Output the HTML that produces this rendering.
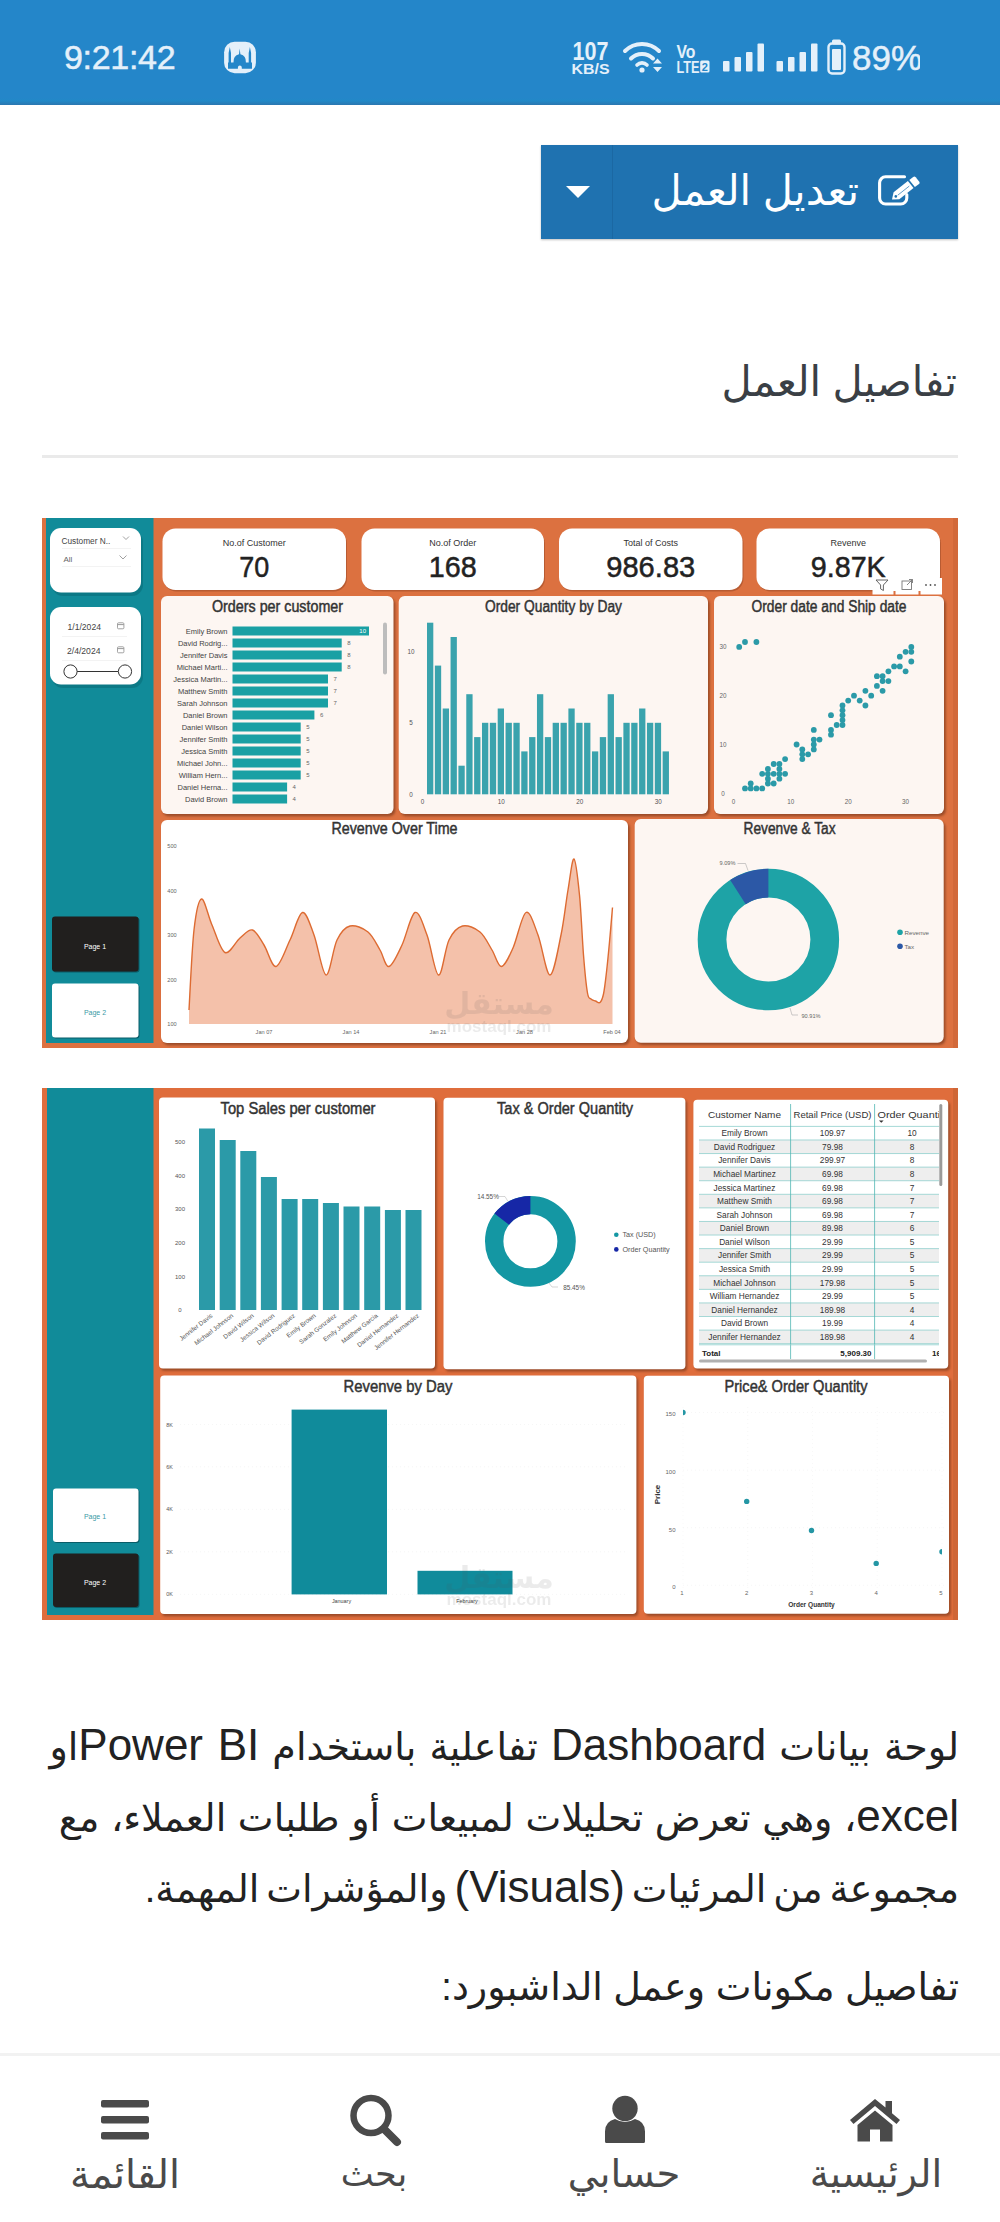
<!DOCTYPE html>
<html lang="ar">
<head>
<meta charset="utf-8">
<title>تفاصيل العمل</title>
<style>
html,body{margin:0;padding:0;overflow:hidden}
.rtl{direction:rtl;unicode-bidi:embed}
body{width:1000px;height:2222px;position:relative;background:#fff;overflow:hidden;color:#222;font-family:"Liberation Sans","DejaVu Sans",sans-serif}
.abs{position:absolute}
.status{left:0;top:0;width:1000px;height:104.5px;background:linear-gradient(to bottom,#2486c9 0,#2486c9 93.5%,#2189c7 96%,#2b76b0 100%)}
.time{left:64px;top:37px;font-size:34px;line-height:40px;color:#e4f0fa;direction:ltr;-webkit-text-stroke:.5px #e4f0fa;letter-spacing:-.3px}
.mosq{position:absolute;left:222px;top:40px}
.sicons{position:absolute;left:560px;top:25px}
.btn{left:541px;top:145px;width:417px;height:94px;background:#1f72b0;box-shadow:0 1px 2px rgba(0,0,0,.25)}
.btn .sep{position:absolute;left:71px;top:0;width:1px;height:94px;background:#1b68a3}
.btn .caret{position:absolute;left:25px;top:41px;width:0;height:0;border-left:12px solid transparent;border-right:12px solid transparent;border-top:12px solid #fff}
.btn .lbl{position:absolute;right:99px;top:16px;font-size:41.5px;line-height:60px;color:#fff;white-space:nowrap}
.editicon{position:absolute;left:335px;top:26px}
h2{margin:0;font-weight:normal;right:43px;top:352px;font-size:41.5px;line-height:60px;color:#3a3f45;white-space:nowrap}
.hr{left:42px;top:455.3px;width:916px;height:2.5px;background:#eaeaea}
.dash{position:absolute;display:block}
.en{font-size:44px}
.p{right:41px;font-size:38px;line-height:71px;height:71px;white-space:nowrap;color:#222}
.nav{left:0;top:2052.5px;width:1000px;height:170px;background:#fff;border-top:3px solid #f2f2f2;box-sizing:border-box}
.navsvg{position:absolute;left:0;top:2090px}
.nl{width:250px;text-align:center;top:2147px;font-size:37.5px;line-height:54px;color:#4a4a4a;white-space:nowrap}
</style>
</head>
<body>
<div class="abs status"></div>
<div class="abs time">9:21:42</div>
<svg class="mosq" width="36" height="36" viewBox="0 0 36 36">
<rect x="2.100" y="1.700" width="31.800" height="31.500" rx="10.500" fill="#e4f0fa"/>
<path fill="#2486c9" d="M6 28.700 V22.400 H6.600 V13 L7.800 7.100 L9 13 V22.400 H11.500 Q11.200 15.500 17 14.200 L17.700 8.600 L18.400 14.200 Q24.200 15.500 23.900 22.400 H26.700 V13 L27.900 7.100 L29.100 13 V22.400 H30 V28.700 H19.800 V27.400 a1.950 1.950 0 0 0 -3.900 0 V28.700 Z"/>
</svg>
<svg class="sicons" width="360" height="60" viewBox="560 25 360 60" direction="ltr" font-family="Liberation Sans, sans-serif" fill="#e4f0fa">
<text x="590.5" y="60" font-size="25.5" font-weight="bold" text-anchor="middle" textLength="36" lengthAdjust="spacingAndGlyphs">107</text>
<text x="590.5" y="74" font-size="15.5" font-weight="bold" text-anchor="middle" textLength="38" lengthAdjust="spacingAndGlyphs">KB/S</text>
<g fill="none" stroke="#e4f0fa" stroke-width="4" stroke-linecap="round">
<path d="M625 51 A24 24 0 0 1 659 51"/><path d="M631 58.5 A15.5 15.5 0 0 1 653 58.5"/><path d="M637 65 A7 7 0 0 1 647 65" stroke-width="3.6"/></g>
<circle cx="642" cy="70" r="2.6"/>
<path d="M653 63.5 l4.5 -5 l4.5 5z M653 67 l4.5 5 l4.5 -5z"/>
<text x="676.500" y="57.500" font-size="18" font-weight="bold" textLength="19" lengthAdjust="spacingAndGlyphs">Vo</text>
<text x="676.500" y="72.500" font-size="17" font-weight="bold" textLength="23" lengthAdjust="spacingAndGlyphs">LTE</text>
<rect x="700.200" y="60.500" width="9.300" height="12" rx="1.500"/>
<text x="704.800" y="70.700" font-size="11" font-weight="bold" text-anchor="middle" fill="#2486c9">2</text>
<rect x="723" y="61" width="6.5" height="10.500" rx="1"/><rect x="734.5" y="57" width="6.5" height="14.500" rx="1"/><rect x="746" y="52" width="6.5" height="19.500" rx="1"/><rect x="757.5" y="43.500" width="6.5" height="28" rx="1"/>
<rect x="776.500" y="61" width="6.5" height="10.500" rx="1"/><rect x="788" y="57" width="6.5" height="14.500" rx="1"/><rect x="799.500" y="52" width="6.5" height="19.500" rx="1"/><rect x="811" y="43.500" width="6.5" height="28" rx="1"/>
<rect x="832" y="39.500" width="9" height="5" rx="1.5"/>
<rect x="828.500" y="43.500" width="16" height="30" rx="3.5" fill="none" stroke="#e4f0fa" stroke-width="2.4"/>
<rect x="832" y="49" width="9" height="21" rx="1"/>
<text x="887" y="70" font-size="35" text-anchor="middle" textLength="70" lengthAdjust="spacingAndGlyphs" stroke="#e4f0fa" stroke-width=".5">89%</text>
</svg>
<div class="abs btn"><div class="sep"></div><div class="caret"></div><div class="lbl rtl">تعديل العمل</div><svg class="editicon" width="46" height="40" viewBox="0 0 46 40" fill="none" stroke="#fff" stroke-width="3.1" stroke-linecap="round" stroke-linejoin="round">
<path d="M28.5 5.800 H9.600 a6 6 0 0 0 -6 6 V27 a6 6 0 0 0 6 6 H24.800 a6 6 0 0 0 6 -6 V23.500"/>
<path d="M16 28.600 L17.600 21.200 L31.900 10.100 L37.500 17.100 L23.300 28.300 Z" fill="#fff" stroke="none"/>
<path d="M33.300 9 L37.200 5.900 Q38.600 4.900 39.700 6.200 L43.300 10.700 Q44.300 12 43 13.100 L38.900 16.100 Z" fill="#fff" stroke="none"/>
<path d="M22 24 L33 15.300" stroke="#1f72b0" stroke-width=".7"/>
<circle cx="19.800" cy="25.400" r="1.300" fill="#1f72b0" stroke="none"/>
</svg></div>
<h2 class="abs rtl">تفاصيل العمل</h2>
<div class="abs hr"></div>
<svg class="dash" style="left:42px;top:518px" width="916" height="530" viewBox="42 518 916 530" direction="ltr" font-family="Liberation Sans, sans-serif">
<defs><filter id="blur" x="-5%" y="-5%" width="110%" height="110%"><feGaussianBlur stdDeviation="1.1"/></filter></defs>
<rect x="42" y="518" width="916" height="530" fill="#dc7140"/>
<rect x="953" y="518" width="5" height="530" fill="#d2693a"/>
<rect x="46" y="518" width="107.5" height="525" fill="#118b99"/>
<rect x="52" y="531" width="91" height="65" rx="11" fill="#0a6b77" opacity=".55"/>
<rect x="50" y="528" width="91" height="64.5" rx="11" fill="#fff"/>
<text x="61.5" y="544" font-size="8.3" fill="#444" text-anchor="start" font-weight="normal" >Customer N..</text>
<path d="M123 536.5 l3 3 l3 -3 M119.5 555.5 l3.5 3.5 l3.5 -3.5" stroke="#888" stroke-width=".8" fill="none"/>
<text x="63.5" y="562.3" font-size="8" fill="#666" text-anchor="start" font-weight="normal" >All</text>
<path d="M62 548.5 H131 M62 566.5 H131" stroke="#eee" stroke-width=".7"/>
<rect x="52" y="610" width="91" height="78" rx="11" fill="#0a6b77" opacity=".55"/>
<rect x="50" y="607" width="91" height="77.5" rx="11" fill="#fff"/>
<text x="67.5" y="630" font-size="8.6" fill="#444" text-anchor="start" font-weight="normal" >1/1/2024</text>
<text x="67" y="654" font-size="8.6" fill="#444" text-anchor="start" font-weight="normal" >2/4/2024</text>
<rect x="117.5" y="622.8" width="6.4" height="6" rx="1" fill="none" stroke="#999" stroke-width=".9"/><path d="M117.5 624.6 h6.4" stroke="#999" stroke-width="1"/>
<rect x="117.5" y="646.8" width="6.4" height="6" rx="1" fill="none" stroke="#999" stroke-width=".9"/><path d="M117.5 648.6 h6.4" stroke="#999" stroke-width="1"/>
<path d="M62 636.5 H127 M62 660.5 H127" stroke="#eee" stroke-width=".7"/>
<path d="M77 671.5 H118" stroke="#333" stroke-width="1.1"/>
<circle cx="70.5" cy="671.5" r="6.6" fill="#fff" stroke="#333" stroke-width="1"/><circle cx="125" cy="671.5" r="6.6" fill="#fff" stroke="#333" stroke-width="1"/>
<rect x="53" y="917.5" width="86.5" height="55" rx="3" fill="#0a5d68"/>
<rect x="52" y="916.5" width="86.5" height="55" rx="3" fill="#211f1e"/>
<text x="95" y="948.5" font-size="7" fill="#fff" text-anchor="middle" font-weight="normal" >Page 1</text>
<rect x="53" y="984.5" width="86.5" height="54" rx="3" fill="#0a5d68"/>
<rect x="52" y="983.5" width="86.5" height="54" rx="3" fill="#fff"/>
<text x="95" y="1014.5" font-size="7" fill="#3a9aa6" text-anchor="middle" font-weight="normal" >Page 2</text>
<rect x="163.5" y="530.5" width="183.5" height="61" rx="13" fill="#a8522c" opacity=".7"/>
<rect x="162.5" y="528.5" width="183.5" height="61.5" rx="13" fill="#fff"/>
<text x="254.25" y="546.3" font-size="9" fill="#333" text-anchor="middle" font-weight="normal" >No.of Customer</text>
<text x="254.25" y="577" font-size="30" fill="#222" text-anchor="middle" font-weight="normal" stroke="#222" stroke-width=".5" textLength="30" lengthAdjust="spacingAndGlyphs">70</text>
<rect x="362.5" y="530.5" width="182.5" height="61" rx="13" fill="#a8522c" opacity=".7"/>
<rect x="361.5" y="528.5" width="182.5" height="61.5" rx="13" fill="#fff"/>
<text x="452.75" y="546.3" font-size="9" fill="#333" text-anchor="middle" font-weight="normal" >No.of Order</text>
<text x="452.75" y="577" font-size="30" fill="#222" text-anchor="middle" font-weight="normal" stroke="#222" stroke-width=".5" textLength="48" lengthAdjust="spacingAndGlyphs">168</text>
<rect x="560" y="530.5" width="183.5" height="61" rx="13" fill="#a8522c" opacity=".7"/>
<rect x="559" y="528.5" width="183.5" height="61.5" rx="13" fill="#fff"/>
<text x="650.75" y="546.3" font-size="9" fill="#333" text-anchor="middle" font-weight="normal" >Total of Costs</text>
<text x="650.75" y="577" font-size="30" fill="#222" text-anchor="middle" font-weight="normal" stroke="#222" stroke-width=".5" textLength="89" lengthAdjust="spacingAndGlyphs">986.83</text>
<rect x="757.5" y="530.5" width="183.5" height="61" rx="13" fill="#a8522c" opacity=".7"/>
<rect x="756.5" y="528.5" width="183.5" height="61.5" rx="13" fill="#fff"/>
<text x="848.25" y="546.3" font-size="9" fill="#333" text-anchor="middle" font-weight="normal" >Revenve</text>
<text x="848.25" y="577" font-size="30" fill="#222" text-anchor="middle" font-weight="normal" stroke="#222" stroke-width=".5" textLength="75" lengthAdjust="spacingAndGlyphs">9.87K</text>
<rect x="872.5" y="578" width="69.5" height="16.5" fill="#fff"/><path d="M894.5 591 v4 M919.5 591 v4" stroke="#dc7140" stroke-width="2"/>
<path d="M876 580 h12 l-4.6 5 v5.5 l-2.8 -1.6 v-3.9 z" fill="none" stroke="#555" stroke-width=".9"/>
<rect x="902" y="581" width="9.5" height="8.5" fill="none" stroke="#777" stroke-width=".9"/><path d="M907 585 l5.5 -5.5 m-3.5 0 h3.5 v3.5" stroke="#777" stroke-width=".9" fill="none"/>
<circle cx="926" cy="585" r=".9" fill="#555"/><circle cx="930.5" cy="585" r=".9" fill="#555"/><circle cx="935" cy="585" r=".9" fill="#555"/>
<rect x="162.8" y="598.2" width="232.5" height="218" rx="6" fill="#8a4222" opacity=".8" filter="url(#blur)"/><rect x="161" y="596" width="232.5" height="218" rx="6" fill="#fdf6f2"/>
<text x="277.5" y="611.5" font-size="15.6" fill="#333" text-anchor="middle" font-weight="normal" textLength="131" lengthAdjust="spacingAndGlyphs" stroke="#333" stroke-width=".45">Orders per customer</text>
<text x="227.5" y="633.7" font-size="7.5" fill="#444" text-anchor="end" font-weight="normal" >Emily Brown</text>
<rect x="232.5" y="626.5" width="136.5" height="9" fill="#1aa0a4"/>
<text x="366.0" y="633.4" font-size="6" fill="#fff" text-anchor="end" font-weight="normal" >10</text>
<text x="227.5" y="645.7" font-size="7.5" fill="#444" text-anchor="end" font-weight="normal" >David Rodrig...</text>
<rect x="232.5" y="638.5" width="109.2" height="9" fill="#1aa0a4"/>
<text x="347.2" y="645.4" font-size="6" fill="#666" text-anchor="start" font-weight="normal" >8</text>
<text x="227.5" y="657.7" font-size="7.5" fill="#444" text-anchor="end" font-weight="normal" >Jennifer Davis</text>
<rect x="232.5" y="650.5" width="109.2" height="9" fill="#1aa0a4"/>
<text x="347.2" y="657.4" font-size="6" fill="#666" text-anchor="start" font-weight="normal" >8</text>
<text x="227.5" y="669.7" font-size="7.5" fill="#444" text-anchor="end" font-weight="normal" >Michael Marti...</text>
<rect x="232.5" y="662.5" width="109.2" height="9" fill="#1aa0a4"/>
<text x="347.2" y="669.4" font-size="6" fill="#666" text-anchor="start" font-weight="normal" >8</text>
<text x="227.5" y="681.7" font-size="7.5" fill="#444" text-anchor="end" font-weight="normal" >Jessica Martin...</text>
<rect x="232.5" y="674.5" width="95.5" height="9" fill="#1aa0a4"/>
<text x="333.55" y="681.4" font-size="6" fill="#666" text-anchor="start" font-weight="normal" >7</text>
<text x="227.5" y="693.7" font-size="7.5" fill="#444" text-anchor="end" font-weight="normal" >Matthew Smith</text>
<rect x="232.5" y="686.5" width="95.5" height="9" fill="#1aa0a4"/>
<text x="333.55" y="693.4" font-size="6" fill="#666" text-anchor="start" font-weight="normal" >7</text>
<text x="227.5" y="705.7" font-size="7.5" fill="#444" text-anchor="end" font-weight="normal" >Sarah Johnson</text>
<rect x="232.5" y="698.5" width="95.5" height="9" fill="#1aa0a4"/>
<text x="333.55" y="705.4" font-size="6" fill="#666" text-anchor="start" font-weight="normal" >7</text>
<text x="227.5" y="717.7" font-size="7.5" fill="#444" text-anchor="end" font-weight="normal" >Daniel Brown</text>
<rect x="232.5" y="710.5" width="81.9" height="9" fill="#1aa0a4"/>
<text x="319.9" y="717.4" font-size="6" fill="#666" text-anchor="start" font-weight="normal" >6</text>
<text x="227.5" y="729.7" font-size="7.5" fill="#444" text-anchor="end" font-weight="normal" >Daniel Wilson</text>
<rect x="232.5" y="722.5" width="68.2" height="9" fill="#1aa0a4"/>
<text x="306.25" y="729.4" font-size="6" fill="#666" text-anchor="start" font-weight="normal" >5</text>
<text x="227.5" y="741.7" font-size="7.5" fill="#444" text-anchor="end" font-weight="normal" >Jennifer Smith</text>
<rect x="232.5" y="734.5" width="68.2" height="9" fill="#1aa0a4"/>
<text x="306.25" y="741.4" font-size="6" fill="#666" text-anchor="start" font-weight="normal" >5</text>
<text x="227.5" y="753.7" font-size="7.5" fill="#444" text-anchor="end" font-weight="normal" >Jessica Smith</text>
<rect x="232.5" y="746.5" width="68.2" height="9" fill="#1aa0a4"/>
<text x="306.25" y="753.4" font-size="6" fill="#666" text-anchor="start" font-weight="normal" >5</text>
<text x="227.5" y="765.7" font-size="7.5" fill="#444" text-anchor="end" font-weight="normal" >Michael John...</text>
<rect x="232.5" y="758.5" width="68.2" height="9" fill="#1aa0a4"/>
<text x="306.25" y="765.4" font-size="6" fill="#666" text-anchor="start" font-weight="normal" >5</text>
<text x="227.5" y="777.7" font-size="7.5" fill="#444" text-anchor="end" font-weight="normal" >William Hern...</text>
<rect x="232.5" y="770.5" width="68.2" height="9" fill="#1aa0a4"/>
<text x="306.25" y="777.4" font-size="6" fill="#666" text-anchor="start" font-weight="normal" >5</text>
<text x="227.5" y="789.7" font-size="7.5" fill="#444" text-anchor="end" font-weight="normal" >Daniel Herna...</text>
<rect x="232.5" y="782.5" width="54.6" height="9" fill="#1aa0a4"/>
<text x="292.6" y="789.4" font-size="6" fill="#666" text-anchor="start" font-weight="normal" >4</text>
<text x="227.5" y="801.7" font-size="7.5" fill="#444" text-anchor="end" font-weight="normal" >David Brown</text>
<rect x="232.5" y="794.5" width="54.6" height="9" fill="#1aa0a4"/>
<text x="292.6" y="801.4" font-size="6" fill="#666" text-anchor="start" font-weight="normal" >4</text>
<rect x="383" y="622.5" width="4" height="52" rx="2" fill="#bdbdbd"/>
<rect x="400.5" y="598.2" width="309.3" height="218" rx="6" fill="#8a4222" opacity=".8" filter="url(#blur)"/><rect x="398.7" y="596" width="309.3" height="218" rx="6" fill="#fdf6f2"/>
<text x="553.5" y="611.5" font-size="15.6" fill="#333" text-anchor="middle" font-weight="normal" textLength="137" lengthAdjust="spacingAndGlyphs" stroke="#333" stroke-width=".45">Order Quantity by Day</text>
<rect x="427.00" y="622.7" width="6.3" height="171.6" fill="#3aa3ad"/>
<rect x="434.86" y="665.6" width="6.3" height="128.7" fill="#3aa3ad"/>
<rect x="442.71" y="708.5" width="6.3" height="85.8" fill="#3aa3ad"/>
<rect x="450.56" y="637.0" width="6.3" height="157.3" fill="#3aa3ad"/>
<rect x="458.42" y="765.7" width="6.3" height="28.6" fill="#3aa3ad"/>
<rect x="466.27" y="694.2" width="6.3" height="100.1" fill="#3aa3ad"/>
<rect x="474.13" y="737.1" width="6.3" height="57.2" fill="#3aa3ad"/>
<rect x="481.99" y="722.8" width="6.3" height="71.5" fill="#3aa3ad"/>
<rect x="489.84" y="722.8" width="6.3" height="71.5" fill="#3aa3ad"/>
<rect x="497.69" y="708.5" width="6.3" height="85.8" fill="#3aa3ad"/>
<rect x="505.55" y="722.8" width="6.3" height="71.5" fill="#3aa3ad"/>
<rect x="513.40" y="722.8" width="6.3" height="71.5" fill="#3aa3ad"/>
<rect x="521.26" y="751.4" width="6.3" height="42.9" fill="#3aa3ad"/>
<rect x="529.12" y="737.1" width="6.3" height="57.2" fill="#3aa3ad"/>
<rect x="536.97" y="694.2" width="6.3" height="100.1" fill="#3aa3ad"/>
<rect x="544.83" y="737.1" width="6.3" height="57.2" fill="#3aa3ad"/>
<rect x="552.68" y="722.8" width="6.3" height="71.5" fill="#3aa3ad"/>
<rect x="560.53" y="722.8" width="6.3" height="71.5" fill="#3aa3ad"/>
<rect x="568.39" y="708.5" width="6.3" height="85.8" fill="#3aa3ad"/>
<rect x="576.25" y="722.8" width="6.3" height="71.5" fill="#3aa3ad"/>
<rect x="584.10" y="722.8" width="6.3" height="71.5" fill="#3aa3ad"/>
<rect x="591.96" y="751.4" width="6.3" height="42.9" fill="#3aa3ad"/>
<rect x="599.81" y="737.1" width="6.3" height="57.2" fill="#3aa3ad"/>
<rect x="607.66" y="694.2" width="6.3" height="100.1" fill="#3aa3ad"/>
<rect x="615.52" y="737.1" width="6.3" height="57.2" fill="#3aa3ad"/>
<rect x="623.38" y="722.8" width="6.3" height="71.5" fill="#3aa3ad"/>
<rect x="631.23" y="722.8" width="6.3" height="71.5" fill="#3aa3ad"/>
<rect x="639.09" y="708.5" width="6.3" height="85.8" fill="#3aa3ad"/>
<rect x="646.94" y="722.8" width="6.3" height="71.5" fill="#3aa3ad"/>
<rect x="654.80" y="722.8" width="6.3" height="71.5" fill="#3aa3ad"/>
<rect x="662.65" y="751.4" width="6.3" height="42.9" fill="#3aa3ad"/>
<text x="411" y="796.6999999999999" font-size="6.3" fill="#555" text-anchor="middle" font-weight="normal" >0</text>
<text x="411" y="725.1999999999999" font-size="6.3" fill="#555" text-anchor="middle" font-weight="normal" >5</text>
<text x="411" y="653.6999999999999" font-size="6.3" fill="#555" text-anchor="middle" font-weight="normal" >10</text>
<text x="422.6" y="803.8" font-size="6.3" fill="#555" text-anchor="middle" font-weight="normal" >0</text>
<text x="501.15000000000003" y="803.8" font-size="6.3" fill="#555" text-anchor="middle" font-weight="normal" >10</text>
<text x="579.7" y="803.8" font-size="6.3" fill="#555" text-anchor="middle" font-weight="normal" >20</text>
<text x="658.25" y="803.8" font-size="6.3" fill="#555" text-anchor="middle" font-weight="normal" >30</text>
<rect x="715.8" y="598.2" width="230" height="218" rx="6" fill="#8a4222" opacity=".8" filter="url(#blur)"/><rect x="714" y="596" width="230" height="218" rx="6" fill="#fdf6f2"/>
<text x="829" y="611.5" font-size="15.6" fill="#333" text-anchor="middle" font-weight="normal" textLength="155" lengthAdjust="spacingAndGlyphs" stroke="#333" stroke-width=".45">Order date and Ship date</text>
<circle cx="739.2" cy="646.9" r="2.9" fill="#2b9aa8"/>
<circle cx="745.0" cy="642.0" r="2.9" fill="#2b9aa8"/>
<circle cx="756.4" cy="642.0" r="2.9" fill="#2b9aa8"/>
<circle cx="745.0" cy="788.4" r="2.9" fill="#2b9aa8"/>
<circle cx="750.7" cy="783.5" r="2.9" fill="#2b9aa8"/>
<circle cx="750.7" cy="788.4" r="2.9" fill="#2b9aa8"/>
<circle cx="756.4" cy="788.4" r="2.9" fill="#2b9aa8"/>
<circle cx="762.2" cy="788.4" r="2.9" fill="#2b9aa8"/>
<circle cx="762.2" cy="773.8" r="2.9" fill="#2b9aa8"/>
<circle cx="767.9" cy="768.9" r="2.9" fill="#2b9aa8"/>
<circle cx="767.9" cy="773.8" r="2.9" fill="#2b9aa8"/>
<circle cx="767.9" cy="778.7" r="2.9" fill="#2b9aa8"/>
<circle cx="767.9" cy="783.5" r="2.9" fill="#2b9aa8"/>
<circle cx="773.7" cy="764.0" r="2.9" fill="#2b9aa8"/>
<circle cx="773.7" cy="773.8" r="2.9" fill="#2b9aa8"/>
<circle cx="773.7" cy="783.5" r="2.9" fill="#2b9aa8"/>
<circle cx="779.4" cy="764.0" r="2.9" fill="#2b9aa8"/>
<circle cx="779.4" cy="768.9" r="2.9" fill="#2b9aa8"/>
<circle cx="779.4" cy="773.8" r="2.9" fill="#2b9aa8"/>
<circle cx="779.4" cy="778.7" r="2.9" fill="#2b9aa8"/>
<circle cx="785.1" cy="759.1" r="2.9" fill="#2b9aa8"/>
<circle cx="785.1" cy="773.8" r="2.9" fill="#2b9aa8"/>
<circle cx="796.6" cy="744.5" r="2.9" fill="#2b9aa8"/>
<circle cx="802.3" cy="749.4" r="2.9" fill="#2b9aa8"/>
<circle cx="802.3" cy="754.3" r="2.9" fill="#2b9aa8"/>
<circle cx="802.3" cy="759.1" r="2.9" fill="#2b9aa8"/>
<circle cx="808.1" cy="754.3" r="2.9" fill="#2b9aa8"/>
<circle cx="813.8" cy="729.9" r="2.9" fill="#2b9aa8"/>
<circle cx="813.8" cy="739.6" r="2.9" fill="#2b9aa8"/>
<circle cx="813.8" cy="744.5" r="2.9" fill="#2b9aa8"/>
<circle cx="813.8" cy="749.4" r="2.9" fill="#2b9aa8"/>
<circle cx="819.5" cy="739.6" r="2.9" fill="#2b9aa8"/>
<circle cx="831.0" cy="715.2" r="2.9" fill="#2b9aa8"/>
<circle cx="831.0" cy="729.9" r="2.9" fill="#2b9aa8"/>
<circle cx="831.0" cy="734.7" r="2.9" fill="#2b9aa8"/>
<circle cx="836.7" cy="725.0" r="2.9" fill="#2b9aa8"/>
<circle cx="842.5" cy="705.5" r="2.9" fill="#2b9aa8"/>
<circle cx="842.5" cy="710.3" r="2.9" fill="#2b9aa8"/>
<circle cx="842.5" cy="715.2" r="2.9" fill="#2b9aa8"/>
<circle cx="842.5" cy="720.1" r="2.9" fill="#2b9aa8"/>
<circle cx="842.5" cy="725.0" r="2.9" fill="#2b9aa8"/>
<circle cx="848.2" cy="700.6" r="2.9" fill="#2b9aa8"/>
<circle cx="854.0" cy="695.7" r="2.9" fill="#2b9aa8"/>
<circle cx="859.7" cy="700.6" r="2.9" fill="#2b9aa8"/>
<circle cx="865.4" cy="690.8" r="2.9" fill="#2b9aa8"/>
<circle cx="865.4" cy="705.5" r="2.9" fill="#2b9aa8"/>
<circle cx="871.2" cy="695.7" r="2.9" fill="#2b9aa8"/>
<circle cx="876.9" cy="676.2" r="2.9" fill="#2b9aa8"/>
<circle cx="876.9" cy="685.9" r="2.9" fill="#2b9aa8"/>
<circle cx="882.6" cy="676.2" r="2.9" fill="#2b9aa8"/>
<circle cx="882.6" cy="681.1" r="2.9" fill="#2b9aa8"/>
<circle cx="882.6" cy="690.8" r="2.9" fill="#2b9aa8"/>
<circle cx="888.4" cy="671.3" r="2.9" fill="#2b9aa8"/>
<circle cx="888.4" cy="681.1" r="2.9" fill="#2b9aa8"/>
<circle cx="894.1" cy="666.4" r="2.9" fill="#2b9aa8"/>
<circle cx="899.8" cy="656.7" r="2.9" fill="#2b9aa8"/>
<circle cx="899.8" cy="666.4" r="2.9" fill="#2b9aa8"/>
<circle cx="905.6" cy="651.8" r="2.9" fill="#2b9aa8"/>
<circle cx="905.6" cy="671.3" r="2.9" fill="#2b9aa8"/>
<circle cx="911.3" cy="646.9" r="2.9" fill="#2b9aa8"/>
<circle cx="911.3" cy="651.8" r="2.9" fill="#2b9aa8"/>
<circle cx="911.3" cy="661.5" r="2.9" fill="#2b9aa8"/>
<text x="723" y="795.6999999999999" font-size="6.3" fill="#666" text-anchor="middle" font-weight="normal" >0</text>
<text x="733.5" y="803.5" font-size="6.3" fill="#666" text-anchor="middle" font-weight="normal" >0</text>
<text x="723" y="746.9" font-size="6.3" fill="#666" text-anchor="middle" font-weight="normal" >10</text>
<text x="790.86" y="803.5" font-size="6.3" fill="#666" text-anchor="middle" font-weight="normal" >10</text>
<text x="723" y="698.0999999999999" font-size="6.3" fill="#666" text-anchor="middle" font-weight="normal" >20</text>
<text x="848.22" y="803.5" font-size="6.3" fill="#666" text-anchor="middle" font-weight="normal" >20</text>
<text x="723" y="649.3" font-size="6.3" fill="#666" text-anchor="middle" font-weight="normal" >30</text>
<text x="905.5799999999999" y="803.5" font-size="6.3" fill="#666" text-anchor="middle" font-weight="normal" >30</text>
<rect x="162.8" y="822.2" width="467" height="223" rx="6" fill="#8a4222" opacity=".8" filter="url(#blur)"/><rect x="161" y="820" width="467" height="223" rx="6" fill="#fff"/>
<text x="394.5" y="834" font-size="15.6" fill="#333" text-anchor="middle" font-weight="normal" textLength="126" lengthAdjust="spacingAndGlyphs" stroke="#333" stroke-width=".45">Revenve Over Time</text>
<path d="M189 1010 C189.8 996.7 191.9 948.5 194 930 C196.1 911.5 198.5 899.8 201.5 899 C204.5 898.2 208.1 916.1 212 925 C215.9 933.9 220.3 950.3 225 952.5 C229.7 954.7 235.4 941.8 240 938 C244.6 934.2 248.5 928.8 252.5 930 C256.5 931.2 260.1 938.9 264 945 C267.9 951.1 271.7 967.3 276 966.5 C280.3 965.7 285.6 949.0 290 940 C294.4 931.0 298.5 913.3 302.5 912.5 C306.5 911.7 310.1 924.6 314 935 C317.9 945.4 322.2 974.2 326 975 C329.8 975.8 333.0 948.2 337 940 C341.0 931.8 344.8 927.3 350 926 C355.2 924.7 363.0 928.0 368 932 C373.0 936.0 376.5 944.2 380 950 C383.5 955.8 385.3 967.3 389 966.5 C392.7 965.7 397.7 954.0 402 945 C406.3 936.0 410.8 914.2 415 912.5 C419.2 910.8 423.1 924.6 427 935 C430.9 945.4 434.8 974.2 438.5 975 C442.2 975.8 445.0 948.2 449 940 C453.0 931.8 457.3 927.3 462.5 926 C467.7 924.7 475.1 928.0 480 932 C484.9 936.0 488.4 944.2 492 950 C495.6 955.8 498.0 966.8 501.5 966.5 C505.0 966.2 508.9 957.0 513 948 C517.1 939.0 521.8 914.7 526 912.5 C530.2 910.3 534.0 924.6 538 935 C542.0 945.4 546.2 975.0 550 975 C553.8 975.0 558.0 949.2 561 935 C564.0 920.8 565.8 902.7 568 890 C570.2 877.3 572.1 858.2 574 859 C575.9 859.8 577.9 879.0 579.5 895 C581.1 911.0 582.2 938.7 583.5 955 C584.8 971.3 586.2 985.7 587.5 993 C588.8 1000.3 589.7 997.7 591 999 C592.3 1000.3 594.0 1000.4 595.5 1001 C597.0 1001.6 598.7 1003.7 600 1002.5 C601.3 1001.3 602.4 999.1 603.5 994 C604.6 988.9 605.5 980.7 606.5 972 C607.5 963.3 608.5 952.8 609.5 942 C610.5 931.2 612.0 913.2 612.5 907.5 L612.5 1024 L189 1024 Z" fill="#f4c1aa"/>
<path d="M189 1010 C189.8 996.7 191.9 948.5 194 930 C196.1 911.5 198.5 899.8 201.5 899 C204.5 898.2 208.1 916.1 212 925 C215.9 933.9 220.3 950.3 225 952.5 C229.7 954.7 235.4 941.8 240 938 C244.6 934.2 248.5 928.8 252.5 930 C256.5 931.2 260.1 938.9 264 945 C267.9 951.1 271.7 967.3 276 966.5 C280.3 965.7 285.6 949.0 290 940 C294.4 931.0 298.5 913.3 302.5 912.5 C306.5 911.7 310.1 924.6 314 935 C317.9 945.4 322.2 974.2 326 975 C329.8 975.8 333.0 948.2 337 940 C341.0 931.8 344.8 927.3 350 926 C355.2 924.7 363.0 928.0 368 932 C373.0 936.0 376.5 944.2 380 950 C383.5 955.8 385.3 967.3 389 966.5 C392.7 965.7 397.7 954.0 402 945 C406.3 936.0 410.8 914.2 415 912.5 C419.2 910.8 423.1 924.6 427 935 C430.9 945.4 434.8 974.2 438.5 975 C442.2 975.8 445.0 948.2 449 940 C453.0 931.8 457.3 927.3 462.5 926 C467.7 924.7 475.1 928.0 480 932 C484.9 936.0 488.4 944.2 492 950 C495.6 955.8 498.0 966.8 501.5 966.5 C505.0 966.2 508.9 957.0 513 948 C517.1 939.0 521.8 914.7 526 912.5 C530.2 910.3 534.0 924.6 538 935 C542.0 945.4 546.2 975.0 550 975 C553.8 975.0 558.0 949.2 561 935 C564.0 920.8 565.8 902.7 568 890 C570.2 877.3 572.1 858.2 574 859 C575.9 859.8 577.9 879.0 579.5 895 C581.1 911.0 582.2 938.7 583.5 955 C584.8 971.3 586.2 985.7 587.5 993 C588.8 1000.3 589.7 997.7 591 999 C592.3 1000.3 594.0 1000.4 595.5 1001 C597.0 1001.6 598.7 1003.7 600 1002.5 C601.3 1001.3 602.4 999.1 603.5 994 C604.6 988.9 605.5 980.7 606.5 972 C607.5 963.3 608.5 952.8 609.5 942 C610.5 931.2 612.0 913.2 612.5 907.5" fill="none" stroke="#dd6b32" stroke-width="1.4"/>
<text x="172" y="847.7" font-size="5.6" fill="#666" text-anchor="middle" font-weight="normal" >500</text>
<text x="172" y="892.7" font-size="5.6" fill="#666" text-anchor="middle" font-weight="normal" >400</text>
<text x="172" y="937.2" font-size="5.6" fill="#666" text-anchor="middle" font-weight="normal" >300</text>
<text x="172" y="981.7" font-size="5.6" fill="#666" text-anchor="middle" font-weight="normal" >200</text>
<text x="172" y="1026.2" font-size="5.6" fill="#666" text-anchor="middle" font-weight="normal" >100</text>
<text x="264" y="1033.8" font-size="5.6" fill="#666" text-anchor="middle" font-weight="normal" >Jan 07</text>
<text x="351" y="1033.8" font-size="5.6" fill="#666" text-anchor="middle" font-weight="normal" >Jan 14</text>
<text x="438" y="1033.8" font-size="5.6" fill="#666" text-anchor="middle" font-weight="normal" >Jan 21</text>
<text x="524.5" y="1033.8" font-size="5.6" fill="#666" text-anchor="middle" font-weight="normal" >Jan 28</text>
<text x="612" y="1033.8" font-size="5.6" fill="#666" text-anchor="middle" font-weight="normal" >Feb 04</text>
<rect x="636.5" y="821.2" width="309.0" height="223.70000000000005" rx="6" fill="#8a4222" opacity=".8" filter="url(#blur)"/><rect x="634.7" y="819" width="309.0" height="223.70000000000005" rx="6" fill="#fdf6f2"/>
<text x="789.5" y="834" font-size="15.6" fill="#333" text-anchor="middle" font-weight="normal" textLength="92" lengthAdjust="spacingAndGlyphs" stroke="#333" stroke-width=".45">Revenve &amp; Tax</text>
<circle cx="768.4" cy="939.5" r="56.35" fill="none" stroke="#1ea3a6" stroke-width="28.700000000000003"/><path d="M768.40 868.80 A70.7 70.7 0 0 0 730.18 880.02 L745.70 904.17 A42 42 0 0 1 768.40 897.50 Z" fill="#2c58a6"/>
<path d="M737.5 863.5 h8 l2.5 7" stroke="#aaa" stroke-width=".6" fill="none"/>
<text x="727.5" y="865.3" font-size="5.6" fill="#666" text-anchor="middle" font-weight="normal" >9.09%</text>
<path d="M790 1008 l2 7 h6" stroke="#aaa" stroke-width=".6" fill="none"/>
<text x="811" y="1017.5" font-size="5.6" fill="#666" text-anchor="middle" font-weight="normal" >90.91%</text>
<circle cx="900" cy="932.3" r="2.8" fill="#1ea3a6"/><circle cx="900" cy="946.3" r="2.8" fill="#2c58a6"/>
<text x="904.5" y="934.5" font-size="6.2" fill="#666" text-anchor="start" font-weight="normal" >Revenve</text>
<text x="904.5" y="948.7" font-size="6.2" fill="#666" text-anchor="start" font-weight="normal" >Tax</text>
<g opacity=".11" fill="#555"><text x="499" y="1014" font-size="30" font-weight="bold" text-anchor="middle" font-family="DejaVu Sans, sans-serif" direction="rtl">مستقل</text><text x="499" y="1032" font-size="17" font-weight="bold" text-anchor="middle">mostaql.com</text></g>
</svg>
<svg class="dash" style="left:42px;top:1088px" width="916" height="532" viewBox="42 1088 916 532" direction="ltr" font-family="Liberation Sans, sans-serif">
<rect x="42" y="1088" width="916" height="532" fill="#df6d3c"/>
<rect x="953" y="1088" width="5" height="532" fill="#cf6636"/>
<rect x="47" y="1088" width="106.5" height="527" fill="#118b99"/>
<rect x="54" y="1489.5" width="85.5" height="53.5" rx="3" fill="#0a5d68"/>
<rect x="53" y="1488.5" width="85.5" height="53.5" rx="3" fill="#fff"/>
<text x="95" y="1518.5" font-size="7" fill="#3a9aa6" text-anchor="middle" font-weight="normal" >Page 1</text>
<rect x="54" y="1554.5" width="85.5" height="53.5" rx="3" fill="#0a5d68"/>
<rect x="53" y="1553.5" width="85.5" height="53.5" rx="3" fill="#211f1e"/>
<text x="95" y="1584.5" font-size="7" fill="#fff" text-anchor="middle" font-weight="normal" >Page 2</text>
<rect x="160.8" y="1099.7" width="276" height="271.0" rx="4" fill="#8a4222" opacity=".8" filter="url(#blur)"/><rect x="159" y="1097.5" width="276" height="271.0" rx="4" fill="#fff"/>
<text x="298" y="1113.5" font-size="15.6" fill="#333" text-anchor="middle" font-weight="normal" textLength="155" lengthAdjust="spacingAndGlyphs" stroke="#333" stroke-width=".45">Top Sales per customer</text>
<rect x="199.0" y="1128.5" width="16" height="181.5" fill="#2b9aa8"/>
<text transform="translate(213.0 1316.5) rotate(-38)" font-size="6.3" fill="#555" text-anchor="end">Jennifer Davis</text>
<rect x="219.7" y="1140" width="16" height="170" fill="#2b9aa8"/>
<text transform="translate(233.7 1316.5) rotate(-38)" font-size="6.3" fill="#555" text-anchor="end">Michael Johnson</text>
<rect x="240.3" y="1151" width="16" height="159" fill="#2b9aa8"/>
<text transform="translate(254.3 1316.5) rotate(-38)" font-size="6.3" fill="#555" text-anchor="end">David Wilson</text>
<rect x="260.9" y="1177" width="16" height="133" fill="#2b9aa8"/>
<text transform="translate(274.9 1316.5) rotate(-38)" font-size="6.3" fill="#555" text-anchor="end">Jessica Wilson</text>
<rect x="281.6" y="1199" width="16" height="111" fill="#2b9aa8"/>
<text transform="translate(295.6 1316.5) rotate(-38)" font-size="6.3" fill="#555" text-anchor="end">David Rodriguez</text>
<rect x="302.2" y="1199" width="16" height="111" fill="#2b9aa8"/>
<text transform="translate(316.2 1316.5) rotate(-38)" font-size="6.3" fill="#555" text-anchor="end">Emily Brown</text>
<rect x="322.9" y="1203" width="16" height="107" fill="#2b9aa8"/>
<text transform="translate(336.9 1316.5) rotate(-38)" font-size="6.3" fill="#555" text-anchor="end">Sarah Gonzalez</text>
<rect x="343.5" y="1206.5" width="16" height="103.5" fill="#2b9aa8"/>
<text transform="translate(357.5 1316.5) rotate(-38)" font-size="6.3" fill="#555" text-anchor="end">Emily Johnson</text>
<rect x="364.2" y="1206.5" width="16" height="103.5" fill="#2b9aa8"/>
<text transform="translate(378.2 1316.5) rotate(-38)" font-size="6.3" fill="#555" text-anchor="end">Matthew Garcia</text>
<rect x="384.9" y="1210" width="16" height="100" fill="#2b9aa8"/>
<text transform="translate(398.9 1316.5) rotate(-38)" font-size="6.3" fill="#555" text-anchor="end">Daniel Hernandez</text>
<rect x="405.5" y="1210" width="16" height="100" fill="#2b9aa8"/>
<text transform="translate(419.5 1316.5) rotate(-38)" font-size="6.3" fill="#555" text-anchor="end">Jennifer Hernandez</text>
<text x="180" y="1312.4" font-size="6" fill="#555" text-anchor="middle" font-weight="normal" >0</text>
<text x="180" y="1278.75" font-size="6" fill="#555" text-anchor="middle" font-weight="normal" >100</text>
<text x="180" y="1245.1000000000001" font-size="6" fill="#555" text-anchor="middle" font-weight="normal" >200</text>
<text x="180" y="1211.45" font-size="6" fill="#555" text-anchor="middle" font-weight="normal" >300</text>
<text x="180" y="1177.8000000000002" font-size="6" fill="#555" text-anchor="middle" font-weight="normal" >400</text>
<text x="180" y="1144.15" font-size="6" fill="#555" text-anchor="middle" font-weight="normal" >500</text>
<rect x="445.3" y="1099.9" width="241.89999999999998" height="271.5999999999999" rx="4" fill="#8a4222" opacity=".8" filter="url(#blur)"/><rect x="443.5" y="1097.7" width="241.89999999999998" height="271.5999999999999" rx="4" fill="#fff"/>
<text x="565" y="1113.5" font-size="15.6" fill="#333" text-anchor="middle" font-weight="normal" textLength="136" lengthAdjust="spacingAndGlyphs" stroke="#333" stroke-width=".45">Tax &amp; Order Quantity</text>
<circle cx="530.4" cy="1241.3" r="36.2" fill="none" stroke="#1497a3" stroke-width="18.4"/><path d="M530.40 1195.90 A45.4 45.4 0 0 0 494.44 1213.59 L509.01 1224.82 A27 27 0 0 1 530.40 1214.30 Z" fill="#1627a6"/>
<path d="M499 1196.5 h6 l3 5" stroke="#bbb" stroke-width=".6" fill="none"/>
<text x="488" y="1199" font-size="6.4" fill="#555" text-anchor="middle" font-weight="normal" >14.55%</text>
<path d="M549 1283 l3 4 h6" stroke="#bbb" stroke-width=".6" fill="none"/>
<text x="574" y="1289.5" font-size="6.4" fill="#555" text-anchor="middle" font-weight="normal" >85.45%</text>
<circle cx="616.3" cy="1234.8" r="2.3" fill="#1497a3"/><circle cx="616.3" cy="1249.4" r="2.3" fill="#1627a6"/>
<text x="622.5" y="1237.3" font-size="7.2" fill="#555" text-anchor="start" font-weight="normal" >Tax (USD)</text>
<text x="622.5" y="1252" font-size="7.2" fill="#555" text-anchor="start" font-weight="normal" >Order Quantity</text>
<rect x="695.1999999999999" y="1102.0" width="254.80000000000007" height="268.79999999999995" rx="4" fill="#8a4222" opacity=".8" filter="url(#blur)"/><rect x="693.4" y="1099.8" width="254.80000000000007" height="268.79999999999995" rx="4" fill="#fff"/>
<text x="744.5" y="1117.5" font-size="9.8" fill="#333" text-anchor="middle" font-weight="normal" textLength="73" lengthAdjust="spacingAndGlyphs">Customer Name</text>
<text x="832.5" y="1117.5" font-size="9.8" fill="#333" text-anchor="middle" font-weight="normal" textLength="78" lengthAdjust="spacingAndGlyphs">Retail Price (USD)</text>
<clipPath id="tc"><rect x="874.6" y="1104" width="64.4" height="260"/></clipPath>
<text x="877.5" y="1117.5" font-size="9.8" fill="#333" text-anchor="start" font-weight="normal" clip-path="url(#tc)" textLength="71" lengthAdjust="spacingAndGlyphs">Order Quantity</text>
<path d="M879 1120.5 h4.6 l-2.3 2.3 z" fill="#333"/>
<text x="744.5" y="1136.2" font-size="8.3" fill="#333" text-anchor="middle" font-weight="normal" >Emily Brown</text>
<text x="832.5" y="1136.2" font-size="8.3" fill="#333" text-anchor="middle" font-weight="normal" >109.97</text>
<text x="912" y="1136.2" font-size="8.3" fill="#333" text-anchor="middle" font-weight="normal" >10</text>
<rect x="699" y="1139.98" width="240" height="13.58" fill="#eeeeee"/>
<text x="744.5" y="1149.78" font-size="8.3" fill="#333" text-anchor="middle" font-weight="normal" >David Rodriguez</text>
<text x="832.5" y="1149.78" font-size="8.3" fill="#333" text-anchor="middle" font-weight="normal" >79.98</text>
<text x="912" y="1149.78" font-size="8.3" fill="#333" text-anchor="middle" font-weight="normal" >8</text>
<text x="744.5" y="1163.3600000000001" font-size="8.3" fill="#333" text-anchor="middle" font-weight="normal" >Jennifer Davis</text>
<text x="832.5" y="1163.3600000000001" font-size="8.3" fill="#333" text-anchor="middle" font-weight="normal" >299.97</text>
<text x="912" y="1163.3600000000001" font-size="8.3" fill="#333" text-anchor="middle" font-weight="normal" >8</text>
<rect x="699" y="1167.14" width="240" height="13.58" fill="#eeeeee"/>
<text x="744.5" y="1176.94" font-size="8.3" fill="#333" text-anchor="middle" font-weight="normal" >Michael Martinez</text>
<text x="832.5" y="1176.94" font-size="8.3" fill="#333" text-anchor="middle" font-weight="normal" >69.98</text>
<text x="912" y="1176.94" font-size="8.3" fill="#333" text-anchor="middle" font-weight="normal" >8</text>
<text x="744.5" y="1190.52" font-size="8.3" fill="#333" text-anchor="middle" font-weight="normal" >Jessica Martinez</text>
<text x="832.5" y="1190.52" font-size="8.3" fill="#333" text-anchor="middle" font-weight="normal" >69.98</text>
<text x="912" y="1190.52" font-size="8.3" fill="#333" text-anchor="middle" font-weight="normal" >7</text>
<rect x="699" y="1194.30" width="240" height="13.58" fill="#eeeeee"/>
<text x="744.5" y="1204.1000000000001" font-size="8.3" fill="#333" text-anchor="middle" font-weight="normal" >Matthew Smith</text>
<text x="832.5" y="1204.1000000000001" font-size="8.3" fill="#333" text-anchor="middle" font-weight="normal" >69.98</text>
<text x="912" y="1204.1000000000001" font-size="8.3" fill="#333" text-anchor="middle" font-weight="normal" >7</text>
<text x="744.5" y="1217.68" font-size="8.3" fill="#333" text-anchor="middle" font-weight="normal" >Sarah Johnson</text>
<text x="832.5" y="1217.68" font-size="8.3" fill="#333" text-anchor="middle" font-weight="normal" >69.98</text>
<text x="912" y="1217.68" font-size="8.3" fill="#333" text-anchor="middle" font-weight="normal" >7</text>
<rect x="699" y="1221.46" width="240" height="13.58" fill="#eeeeee"/>
<text x="744.5" y="1231.26" font-size="8.3" fill="#333" text-anchor="middle" font-weight="normal" >Daniel Brown</text>
<text x="832.5" y="1231.26" font-size="8.3" fill="#333" text-anchor="middle" font-weight="normal" >89.98</text>
<text x="912" y="1231.26" font-size="8.3" fill="#333" text-anchor="middle" font-weight="normal" >6</text>
<text x="744.5" y="1244.8400000000001" font-size="8.3" fill="#333" text-anchor="middle" font-weight="normal" >Daniel Wilson</text>
<text x="832.5" y="1244.8400000000001" font-size="8.3" fill="#333" text-anchor="middle" font-weight="normal" >29.99</text>
<text x="912" y="1244.8400000000001" font-size="8.3" fill="#333" text-anchor="middle" font-weight="normal" >5</text>
<rect x="699" y="1248.62" width="240" height="13.58" fill="#eeeeee"/>
<text x="744.5" y="1258.42" font-size="8.3" fill="#333" text-anchor="middle" font-weight="normal" >Jennifer Smith</text>
<text x="832.5" y="1258.42" font-size="8.3" fill="#333" text-anchor="middle" font-weight="normal" >29.99</text>
<text x="912" y="1258.42" font-size="8.3" fill="#333" text-anchor="middle" font-weight="normal" >5</text>
<text x="744.5" y="1272.0" font-size="8.3" fill="#333" text-anchor="middle" font-weight="normal" >Jessica Smith</text>
<text x="832.5" y="1272.0" font-size="8.3" fill="#333" text-anchor="middle" font-weight="normal" >29.99</text>
<text x="912" y="1272.0" font-size="8.3" fill="#333" text-anchor="middle" font-weight="normal" >5</text>
<rect x="699" y="1275.78" width="240" height="13.58" fill="#eeeeee"/>
<text x="744.5" y="1285.5800000000002" font-size="8.3" fill="#333" text-anchor="middle" font-weight="normal" >Michael Johnson</text>
<text x="832.5" y="1285.5800000000002" font-size="8.3" fill="#333" text-anchor="middle" font-weight="normal" >179.98</text>
<text x="912" y="1285.5800000000002" font-size="8.3" fill="#333" text-anchor="middle" font-weight="normal" >5</text>
<text x="744.5" y="1299.16" font-size="8.3" fill="#333" text-anchor="middle" font-weight="normal" >William Hernandez</text>
<text x="832.5" y="1299.16" font-size="8.3" fill="#333" text-anchor="middle" font-weight="normal" >29.99</text>
<text x="912" y="1299.16" font-size="8.3" fill="#333" text-anchor="middle" font-weight="normal" >5</text>
<rect x="699" y="1302.94" width="240" height="13.58" fill="#eeeeee"/>
<text x="744.5" y="1312.74" font-size="8.3" fill="#333" text-anchor="middle" font-weight="normal" >Daniel Hernandez</text>
<text x="832.5" y="1312.74" font-size="8.3" fill="#333" text-anchor="middle" font-weight="normal" >189.98</text>
<text x="912" y="1312.74" font-size="8.3" fill="#333" text-anchor="middle" font-weight="normal" >4</text>
<text x="744.5" y="1326.32" font-size="8.3" fill="#333" text-anchor="middle" font-weight="normal" >David Brown</text>
<text x="832.5" y="1326.32" font-size="8.3" fill="#333" text-anchor="middle" font-weight="normal" >19.99</text>
<text x="912" y="1326.32" font-size="8.3" fill="#333" text-anchor="middle" font-weight="normal" >4</text>
<rect x="699" y="1330.10" width="240" height="13.58" fill="#eeeeee"/>
<text x="744.5" y="1339.9" font-size="8.3" fill="#333" text-anchor="middle" font-weight="normal" >Jennifer Hernandez</text>
<text x="832.5" y="1339.9" font-size="8.3" fill="#333" text-anchor="middle" font-weight="normal" >189.98</text>
<text x="912" y="1339.9" font-size="8.3" fill="#333" text-anchor="middle" font-weight="normal" >4</text>
<path d="M699 1126.40 H939 M699 1139.98 H939 M699 1153.56 H939 M699 1167.14 H939 M699 1180.72 H939 M699 1194.30 H939 M699 1207.88 H939 M699 1221.46 H939 M699 1235.04 H939 M699 1248.62 H939 M699 1262.20 H939 M699 1275.78 H939 M699 1289.36 H939 M699 1302.94 H939 M699 1316.52 H939 M699 1330.10 H939 M699 1343.68 H939 " stroke="#8fcfcd" stroke-width=".8"/>
<path d="M790.6 1104 V1359 M874.6 1104 V1359" stroke="#4fb5b3" stroke-width=".8"/>
<path d="M699 1344.8 H939" stroke="#8fcfcd" stroke-width=".8"/>
<text x="702" y="1356" font-size="8" fill="#222" text-anchor="start" font-weight="bold" >Total</text>
<text x="871.5" y="1356" font-size="8" fill="#222" text-anchor="end" font-weight="bold" >5,909.30</text>
<text x="932" y="1356" font-size="8" fill="#222" text-anchor="start" font-weight="bold" clip-path="url(#tc)">16</text>
<rect x="939.3" y="1104" width="3" height="82" rx="1.5" fill="#9a9a9a"/>
<rect x="699" y="1359.5" width="228" height="3" rx="1.5" fill="#b0b0b0"/>
<rect x="162.0" y="1377.7" width="476.2" height="238.5" rx="4" fill="#8a4222" opacity=".8" filter="url(#blur)"/><rect x="160.2" y="1375.5" width="476.2" height="238.5" rx="4" fill="#fff"/>
<text x="398" y="1391.5" font-size="15.6" fill="#333" text-anchor="middle" font-weight="normal" textLength="109" lengthAdjust="spacingAndGlyphs" stroke="#333" stroke-width=".45">Revenve by Day</text>
<text x="169.5" y="1426.5" font-size="5.4" fill="#555" text-anchor="middle" font-weight="normal" >8K</text>
<path d="M180 1424.5 H628" stroke="#ececec" stroke-width=".5" stroke-dasharray="1 3"/>
<text x="169.5" y="1468.8" font-size="5.4" fill="#555" text-anchor="middle" font-weight="normal" >6K</text>
<path d="M180 1466.8 H628" stroke="#ececec" stroke-width=".5" stroke-dasharray="1 3"/>
<text x="169.5" y="1511.4" font-size="5.4" fill="#555" text-anchor="middle" font-weight="normal" >4K</text>
<path d="M180 1509.4 H628" stroke="#ececec" stroke-width=".5" stroke-dasharray="1 3"/>
<text x="169.5" y="1553.8" font-size="5.4" fill="#555" text-anchor="middle" font-weight="normal" >2K</text>
<path d="M180 1551.8 H628" stroke="#ececec" stroke-width=".5" stroke-dasharray="1 3"/>
<text x="169.5" y="1596.4" font-size="5.4" fill="#555" text-anchor="middle" font-weight="normal" >0K</text>
<path d="M180 1594.4 H628" stroke="#ececec" stroke-width=".5" stroke-dasharray="1 3"/>
<rect x="291.6" y="1409.6" width="95.4" height="184.8" fill="#108b9b"/>
<rect x="417.5" y="1570.8" width="95" height="23.6" fill="#108b9b"/>
<text x="341.5" y="1603" font-size="5.4" fill="#444" text-anchor="middle" font-weight="normal" >January</text>
<text x="467" y="1603" font-size="5.4" fill="#444" text-anchor="middle" font-weight="normal" >February</text>
<rect x="645.5999999999999" y="1378.0" width="305.20000000000005" height="238.0" rx="4" fill="#8a4222" opacity=".8" filter="url(#blur)"/><rect x="643.8" y="1375.8" width="305.20000000000005" height="238.0" rx="4" fill="#fff"/>
<text x="796" y="1391.5" font-size="15.6" fill="#333" text-anchor="middle" font-weight="normal" textLength="143" lengthAdjust="spacingAndGlyphs" stroke="#333" stroke-width=".45">Price&amp; Order Quantity</text>
<text x="675.5" y="1416.3" font-size="6" fill="#666" text-anchor="end" font-weight="normal" >150</text>
<path d="M683 1412.5 H944" stroke="#ececec" stroke-width=".5" stroke-dasharray="1 3"/>
<text x="675.5" y="1474.0" font-size="6" fill="#666" text-anchor="end" font-weight="normal" >100</text>
<path d="M683 1470.2 H944" stroke="#ececec" stroke-width=".5" stroke-dasharray="1 3"/>
<text x="675.5" y="1531.5" font-size="6" fill="#666" text-anchor="end" font-weight="normal" >50</text>
<path d="M683 1527.7 H944" stroke="#ececec" stroke-width=".5" stroke-dasharray="1 3"/>
<text x="675.5" y="1589.1" font-size="6" fill="#666" text-anchor="end" font-weight="normal" >0</text>
<path d="M683 1585.3 H944" stroke="#ececec" stroke-width=".5" stroke-dasharray="1 3"/>
<text x="682" y="1595" font-size="6" fill="#666" text-anchor="middle" font-weight="normal" >1</text>
<path d="M683 1407 V1588" stroke="#f0f0f0" stroke-width=".5" stroke-dasharray="1 3"/>
<text x="746.7" y="1595" font-size="6" fill="#666" text-anchor="middle" font-weight="normal" >2</text>
<path d="M747.7 1407 V1588" stroke="#f0f0f0" stroke-width=".5" stroke-dasharray="1 3"/>
<text x="811.5" y="1595" font-size="6" fill="#666" text-anchor="middle" font-weight="normal" >3</text>
<path d="M812.5 1407 V1588" stroke="#f0f0f0" stroke-width=".5" stroke-dasharray="1 3"/>
<text x="876.2" y="1595" font-size="6" fill="#666" text-anchor="middle" font-weight="normal" >4</text>
<path d="M877.2 1407 V1588" stroke="#f0f0f0" stroke-width=".5" stroke-dasharray="1 3"/>
<text x="941" y="1595" font-size="6" fill="#666" text-anchor="middle" font-weight="normal" >5</text>
<path d="M942 1407 V1588" stroke="#f0f0f0" stroke-width=".5" stroke-dasharray="1 3"/>
<clipPath id="pc"><rect x="683" y="1400" width="259" height="200"/></clipPath>
<g clip-path="url(#pc)" fill="#2496a4">
<circle cx="683" cy="1412.5" r="2.7"/>
<circle cx="746.7" cy="1501.4" r="2.7"/>
<circle cx="811.5" cy="1530.5" r="2.7"/>
<circle cx="876.2" cy="1563.4" r="2.7"/>
<circle cx="942" cy="1551.8" r="2.7"/>
</g>
<text transform="translate(660 1494.5) rotate(-90)" font-size="8" font-weight="bold" fill="#333" text-anchor="middle">Price</text>
<text x="811.5" y="1606.5" font-size="6.6" fill="#333" text-anchor="middle" font-weight="bold" >Order Quantity</text>
<g opacity=".11" fill="#555"><text x="499" y="1588" font-size="30" font-weight="bold" text-anchor="middle" font-family="DejaVu Sans, sans-serif" direction="rtl">مستقل</text><text x="499" y="1605" font-size="17" font-weight="bold" text-anchor="middle">mostaql.com</text></g>
</svg>
<div class="abs p rtl" style="top:1708.5px;word-spacing:2.5px">لوحة بيانات <span class="en">Dashboard</span> تفاعلية باستخدام <span class="en">Power BI</span>او</div>
<div class="abs p rtl" style="top:1779.5px;word-spacing:1.1px"><span class="en">excel</span>، وهي تعرض تحليلات لمبيعات أو طلبات العملاء، مع</div>
<div class="abs p rtl" style="top:1850.5px;word-spacing:-3.6px">مجموعة من المرئيات <span class="en">(Visuals)</span> والمؤشرات المهمة.</div>
<div class="abs p rtl" style="top:1951.5px">تفاصيل مكونات وعمل الداشبورد:</div>
<div class="abs nav"></div>
<svg class="navsvg" width="1000" height="60" viewBox="0 2090 1000 60" fill="#4a4a4a">
<rect x="101" y="2100" width="48" height="7.500" rx="2"/><rect x="101" y="2116" width="48" height="7.500" rx="2"/><rect x="101" y="2132" width="48" height="7.500" rx="2"/>
<circle cx="371" cy="2115.500" r="17.500" fill="none" stroke="#4a4a4a" stroke-width="6.500"/><path d="M384 2129 L397 2142" stroke="#4a4a4a" stroke-width="8" stroke-linecap="round"/>
<circle cx="625" cy="2108.500" r="12.700"/><path d="M605 2141.500 v-10 q0 -10 10 -12.500 q10 6 20 0 q10 2.500 10 12.500 v10 q0 1.500 -1.500 1.500 h-37 q-1.500 0 -1.500 -1.500z"/>
<path d="M875 2099 l-25 21 l3.500 4 l21.500 -18 l21.500 18 l3.500 -4 l-8 -6.800 v-12.200 h-6.500 v6.600 z"/>
<path d="M875 2110.500 l-17.500 14.500 v16.500 h12.500 v-12 h10 v12 h12.500 v-16.500 z"/>
</svg>
<div class="abs nl rtl" style="left:0;font-size:39.5px">القائمة</div>
<div class="abs nl rtl" style="left:249px;font-size:35px">بحث</div>
<div class="abs nl rtl" style="left:499px;font-size:38.5px">حسابي</div>
<div class="abs nl rtl" style="left:751px;font-size:38.5px">الرئيسية</div>
</body>
</html>
